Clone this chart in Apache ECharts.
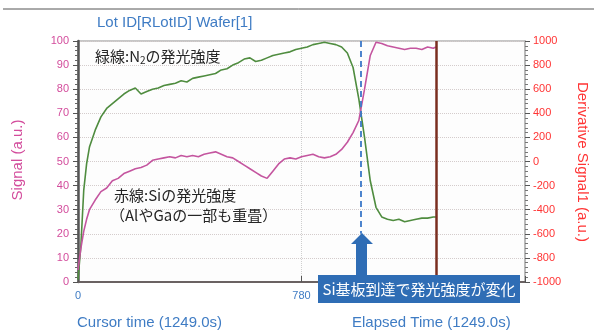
<!DOCTYPE html>
<html>
<head>
<meta charset="utf-8">
<script src="https://cdn.jsdelivr.net/npm/echarts@6/dist/echarts.min.js"></script>
<style>
  html, body { margin: 0; padding: 0; background: #fff; }
  #chart { width: 594px; height: 332px; }
</style>
</head>
<body>
<div id="chart"></div>
<script>
// elapsed time (s) of each sample
const times = [0, 10, 20, 30, 40, 60, 80, 100, 120, 140, 160, 180, 200, 220, 240, 260, 280, 300,
    320, 340, 360, 380, 400, 420, 440, 460, 480, 500, 520, 540, 560, 580, 600, 620, 640, 660,
    680, 700, 720, 740, 760, 780, 800, 820, 840, 860, 880, 900, 920, 940, 960, 980, 1000, 1020,
    1040, 1060, 1080, 1100, 1120, 1140, 1160, 1180, 1200, 1220, 1240, 1249];
// green line: N2 emission
const n2Signal = [1, 15, 38, 49, 56, 63, 68.5, 72, 74, 76, 78, 79.5, 80.5, 78, 79, 80, 80.5, 81.5,
    82, 82.5, 83.5, 83, 84.5, 85, 85.5, 86, 86.5, 88, 88.5, 90, 91, 92.5, 93, 91.5, 92, 93,
    94, 94.5, 95, 95.5, 96.5, 97, 97.5, 98.5, 99, 99.5, 99, 98.5, 97.5, 95, 89, 76, 60, 42,
    31, 27, 26, 25.5, 26, 25, 25.5, 26, 26.5, 26.5, 27, 27];
// pink line: Si emission
const siSignal = [5, 14, 21, 26, 30, 34, 37.5, 39, 42, 43, 45, 46, 47, 47.5, 48.5, 50.5, 51, 51.5,
    52, 51.5, 52.5, 52, 52.5, 52, 53, 53.5, 54, 53, 52, 51.5, 50, 48.5, 47, 45.5, 44, 43,
    46, 49, 51, 51.5, 51, 52, 52.5, 53, 52, 51.5, 52, 53, 55, 58, 62, 67, 80, 94,
    99.5, 99, 98, 97.5, 97, 96.5, 97, 97, 96.5, 97.5, 97, 97.5];
const reachTime = 986;   // Si substrate reached
const cursorTime = 1249; // cursor position

const chart = echarts.init(document.getElementById('chart'));

const pairs = function (vals) {
    return times.map(function (t, i) { return [t, vals[i]]; });
};

const option = {
    animation: false,
    backgroundColor: '#fff',
    textStyle: { fontFamily: 'Liberation Sans, Arial, sans-serif' },
    title: {
        text: 'Lot ID[RLotID] Wafer[1]',
        left: 92,
        top: 10,
        textStyle: { color: '#3f7cc4', fontSize: 15, fontWeight: 'normal' }
    },
    grid: {
        left: 78, right: 69, top: 41, bottom: 50,
        show: true, borderColor: '#b4b4b4', borderWidth: 1.5, backgroundColor: '#fdfdfd'
    },
    xAxis: {
        type: 'value',
        min: 0,
        max: 1560,
        interval: 780,
        axisLine: { show: true, lineStyle: { color: '#6a6262', width: 2 } },
        axisTick: { show: true, inside: true, length: 6, lineStyle: { color: '#555' } },
        axisLabel: {
            color: '#3f7cc4', fontSize: 11, margin: 8,
            formatter: function (v) { return v === 1560 ? '' : String(v); }
        },
        splitLine: { show: true, lineStyle: { color: '#cfcfcf', type: 'dotted' } }
    },
    yAxis: [{
        type: 'value',
        min: 0,
        max: 100,
        interval: 10,
        position: 'left',
        axisLine: { show: true, lineStyle: { color: '#555', width: 2.5 } },
        axisTick: { show: true, length: 5, lineStyle: { color: '#555' } },
        minorTick: { show: true, splitNumber: 5, length: 3, lineStyle: { color: '#666' } },
        axisLabel: { color: '#d34c9c', fontSize: 11, margin: 9 },
        splitLine: { show: true, lineStyle: { color: '#d4cccc', type: 'dotted' } }
    }, {
        type: 'value',
        min: -1000,
        max: 1000,
        interval: 200,
        position: 'right',
        axisLine: { show: true, lineStyle: { color: '#b4b4b4', width: 1.5 } },
        axisTick: { show: true, length: 5, lineStyle: { color: '#555' } },
        minorTick: { show: true, splitNumber: 5, length: 3, lineStyle: { color: '#777' } },
        axisLabel: { color: '#ff3434', fontSize: 11, margin: 8, formatter: function (v) { return String(v); } },
        splitLine: { show: false }
    }],
    series: [{
        name: 'N2',
        type: 'line',
        data: pairs(n2Signal),
        showSymbol: false,
        lineStyle: { color: '#4f8c3f', width: 1.6 },
        z: 3,
        markLine: {
            silent: true,
            symbol: 'none',
            label: { show: false },
            data: [
                [{ coord: [cursorTime, 0], lineStyle: { color: '#7a2e1f', width: 2.5, type: 'solid' } },
                    { coord: [cursorTime, 100] }],
                [{ coord: [reachTime, 100], lineStyle: { color: '#3b78c8', width: 1.8, type: [6, 4] } },
                    { coord: [reachTime, 20] }]
            ]
        }
    }, {
        name: 'Si',
        type: 'line',
        data: pairs(siSignal),
        showSymbol: false,
        lineStyle: { color: '#c4559f', width: 1.6 },
        z: 4
    }],
    graphic: [
        { type: 'line', shape: { x1: 3, y1: 9, x2: 594, y2: 9 }, style: { stroke: '#555', lineWidth: 1 } },
        {
            type: 'text', x: 18, y: 160, rotation: Math.PI / 2,
            style: { text: 'Signal (a.u.)', fill: '#d34c9c', font: '15px Liberation Sans, Arial, sans-serif',
                align: 'center', verticalAlign: 'middle' }
        },
        {
            type: 'text', x: 582, y: 162, rotation: -Math.PI / 2,
            style: { text: 'Derivative Signal1 (a.u.)', fill: '#ff3434', font: '15px Liberation Sans, Arial, sans-serif',
                align: 'center', verticalAlign: 'middle' }
        },
        {
            type: 'text', x: 77, y: 315,
            style: { text: 'Cursor time (1249.0s)', fill: '#3f7cc4', font: '15px Liberation Sans, Arial, sans-serif' }
        },
        {
            type: 'text', x: 352, y: 315,
            style: { text: 'Elapsed Time (1249.0s)', fill: '#3f7cc4', font: '15px Liberation Sans, Arial, sans-serif' }
        },
        {
            type: 'text', x: 95, y: 47, z: 10,
            style: {
                text: '{a|緑線:N}{s|2}{a|の発光強度}',
                rich: {
                    a: { fill: '#262626', font: '15px "Noto Sans CJK JP", sans-serif' },
                    s: { fill: '#262626', font: '10px "Noto Sans CJK JP", sans-serif', verticalAlign: 'bottom', padding: [8, 0, 0, 0] }
                }
            }
        },
        {
            type: 'text', x: 114, y: 188, z: 10,
            style: { text: '赤線:Siの発光強度', fill: '#262626', font: '15px "Noto Sans CJK JP", sans-serif' }
        },
        {
            type: 'text', x: 110, y: 208, z: 10,
            style: { text: '（AlやGaの一部も重畳）', fill: '#262626', font: '15px "Noto Sans CJK JP", sans-serif' }
        },
        {
            type: 'polygon', z: 20,
            shape: { points: [[362, 233], [373, 244], [367, 244], [367, 276], [356, 276], [356, 244], [351, 244]] },
            style: { fill: '#2f6db5' }
        },
        {
            type: 'rect', z: 20,
            shape: { x: 318, y: 275, width: 202, height: 28 },
            style: { fill: '#2f6db5' }
        },
        {
            type: 'text', x: 419, y: 289, z: 21,
            style: { text: 'Si基板到達で発光強度が変化', fill: '#fff', font: '15px "Noto Sans CJK JP", sans-serif',
                align: 'center', verticalAlign: 'middle' }
        }
    ]
};
chart.setOption(option);
</script>
</body>
</html>
